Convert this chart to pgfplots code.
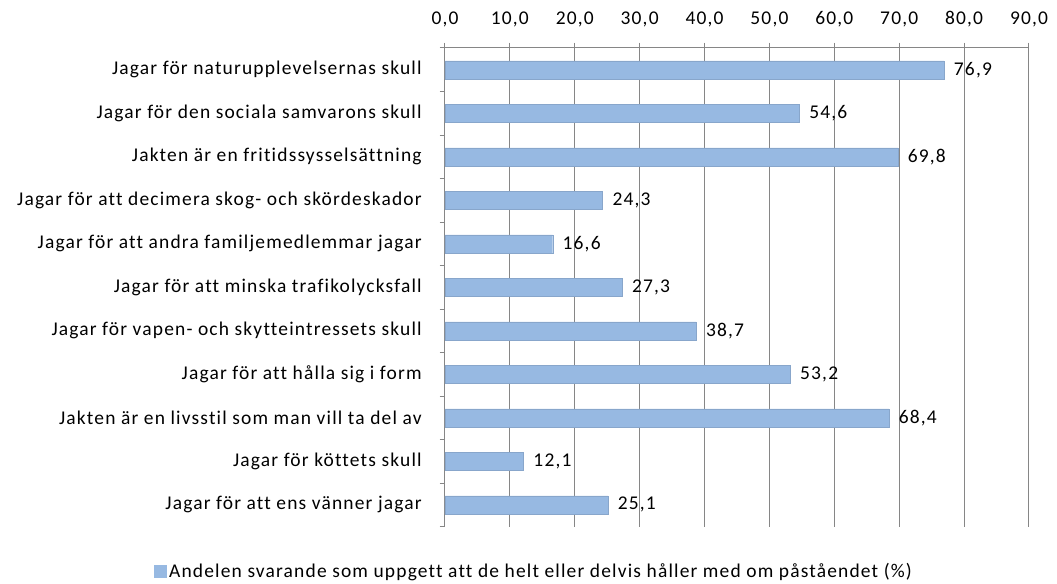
\documentclass[border=0pt]{standalone}
\usepackage{pgfplots}
\pgfplotsset{compat=1.18}
\usepackage{fontspec}
\setmainfont{Carlito}[LetterSpace=6, Ligatures={NoCommon}]
\definecolor{barblue}{RGB}{151,185,226}
\definecolor{gridgray}{RGB}{134,134,134}
\newcommand{\lblfont}{\fontsize{14.6pt}{16pt}\selectfont}
\begin{document}
\begin{tikzpicture}
\begin{axis}[
  at={(0,0)}, anchor=south west,
  scale only axis, width=438pt, height=359pt,
  xbar, bar width=13.5pt,
  xmin=0, xmax=90, ymin=-0.5, ymax=10.5,
  y dir=reverse,
  axis x line*=top, axis y line*=left,
  axis line style={gridgray, line width=0.75pt},
  xtick={0,10,...,90},
  xmajorgrids, major grid style={gridgray, line width=0.75pt},
  tick align=outside,
  major tick length=4pt,
  tick style={gridgray, line width=0.75pt},
  ytick={0,...,10},
  major y tick style={draw=none},
  minor ytick={-0.5,0.5,...,10.5},
  minor tick length=4pt,
  minor y tick style={gridgray, line width=0.75pt},
  yticklabels={
    Jagar för naturupplevelsernas skull,
    Jagar för den sociala samvarons skull,
    Jakten är en fritidssysselsättning,
    Jagar för att decimera skog- och skördeskador,
    Jagar för att andra familjemedlemmar jagar,
    Jagar för att minska trafikolycksfall,
    Jagar för vapen- och skytteintressets skull,
    Jagar för att hålla sig i form,
    Jakten är en livsstil som man vill ta del av,
    Jagar för köttets skull,
    Jagar för att ens vänner jagar},
  yticklabel style={font=\lblfont, xshift=-10pt},
  xticklabel style={font=\lblfont, yshift=8pt},
  /pgf/number format/assume math mode=true,
  /pgf/number format/use comma,
  /pgf/number format/fixed,
  /pgf/number format/fixed zerofill,
  /pgf/number format/precision=1,
  nodes near coords,
  nodes near coords style={font=\lblfont, black, xshift=4pt},
  legend style={at={(0.153,-0.094)}, anchor=center, draw=none, fill=none,
    font=\lblfont, inner sep=0pt},
  legend image code/.code={\fill[barblue] (0pt,-4.5pt) rectangle (9pt,5pt);},
]
\addplot[fill=barblue, draw=barblue!90!black, line width=0.3pt] coordinates {
  (76.9,0) (54.6,1) (69.8,2) (24.3,3) (16.6,4) (27.3,5)
  (38.7,6) (53.2,7) (68.4,8) (12.1,9) (25.1,10)};
\addlegendentry{Andelen svarande som uppgett att de helt eller delvis håller med om påståendet (\%)}
\end{axis}
\path[use as bounding box] (-333.75pt,-42.75pt) rectangle (459pt,395pt);
\end{tikzpicture}
\end{document}
